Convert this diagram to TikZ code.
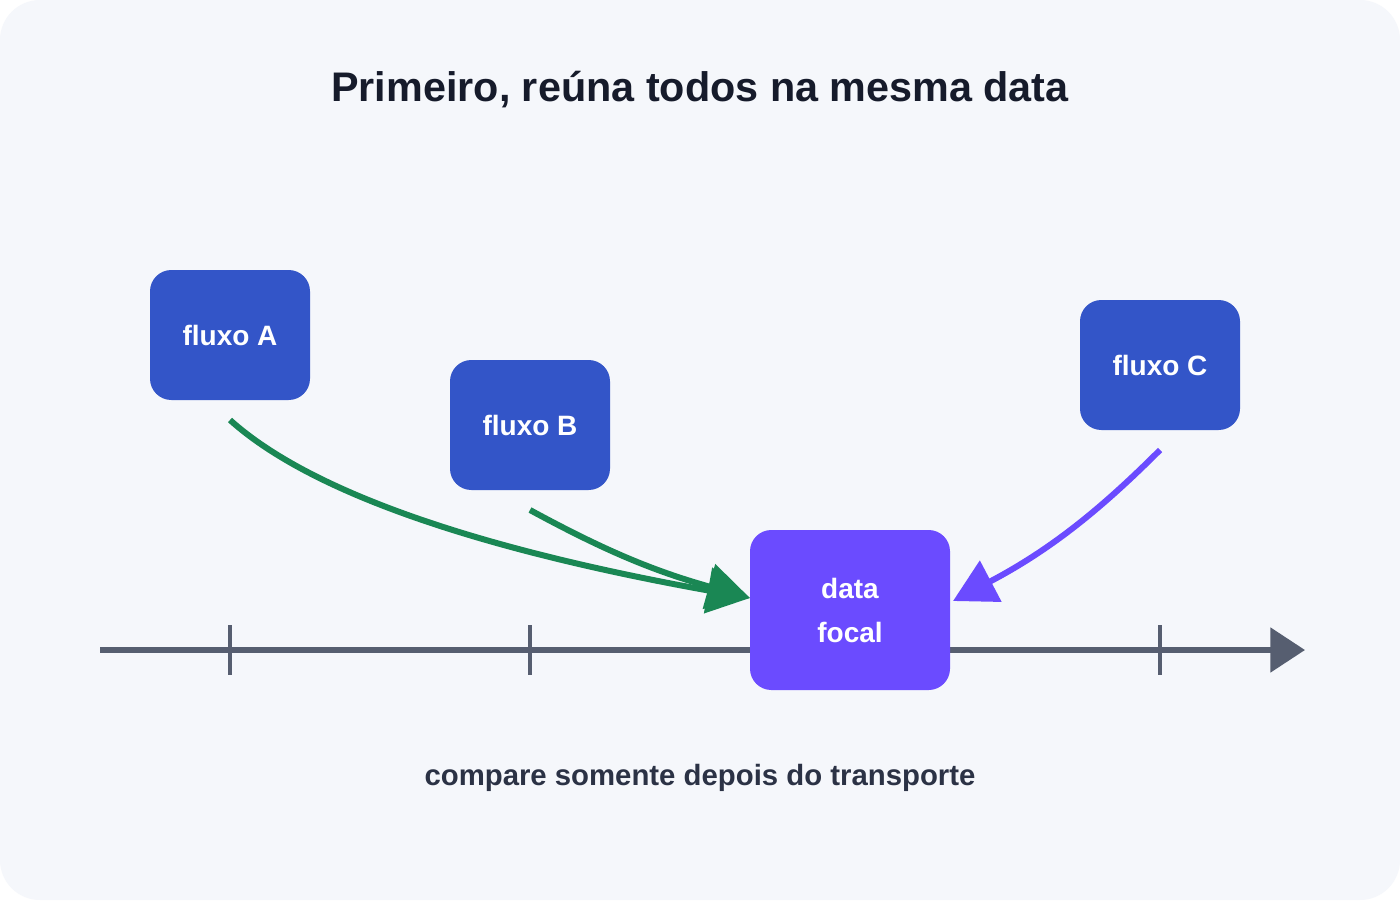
\documentclass[tikz,border=0pt]{standalone}
\usepackage{fontspec}
\setmainfont{Liberation Sans}
\usetikzlibrary{arrows.meta}
\definecolor{bg}{HTML}{F5F7FB}
\definecolor{boxb}{HTML}{3355C8}
\definecolor{focal}{HTML}{6B4BFF}
\definecolor{axis}{HTML}{565E70}
\definecolor{grn}{HTML}{1A8754}
\definecolor{ttl}{HTML}{161B2B}
\definecolor{sub}{HTML}{2B3245}
\begin{document}
\begin{tikzpicture}[x=0.75pt,y=-0.75pt,
  box/.style={draw=none,fill=boxb,rounded corners=16pt,minimum width=120pt,minimum height=97.5pt,text=white,font=\bfseries\fontsize{21}{25}\selectfont,inner sep=0pt},
  conn/.style={line width=4.5pt},
  tick/.style={axis,line width=3.5pt}]
\useasboundingbox (0,0) rectangle (1400,900);
\fill[white] (0,0) rectangle (1400,900);
\fill[bg,rounded corners=30pt] (0,0) rectangle (1400,900);
\node[text=ttl,font=\bfseries\fontsize{31}{36}\selectfont] (title) at (700,90) {Primeiro, reúna todos na mesma data};
% axis
\coordinate (ax0) at (100,650);
\coordinate (ax1) at (1305,650);
\draw[axis,line width=4pt,-{Triangle[length=26pt,width=33pt]}] (ax0) -- (ax1);
\foreach \x/\n in {230/t1,530/t2,1160/t3}{
  \coordinate (\n a) at (\x,625); \coordinate (\n b) at (\x,675);
  \draw[tick] (\n a) -- (\n b);}
\node[box] (A) at (230,335) {fluxo A};
\node[box] (B) at (530,425) {fluxo B};
\node[box] (C) at (1160,365) {fluxo C};
\node[box,fill=focal,minimum width=150pt,minimum height=120pt,align=center,font=\bfseries\fontsize{21}{33}\selectfont] (F) at (850,610) {data\\focal};
\coordinate (Aout) at (230,420);
\coordinate (Bout) at (530,510);
\coordinate (Cout) at (1160,450);
\coordinate (Fin) at (750,598);
\coordinate (Fin2) at (953,601);
\draw[conn,grn,-{Triangle[length=32pt,width=34pt]}] (Bout) .. controls (600,548) and (650,570) .. (Fin);
\draw[conn,grn,-{Triangle[length=32pt,width=34pt]}] (Aout) .. controls (330,510) and (550,562) .. (Fin);
\draw[conn,focal,-{Triangle[length=32pt,width=34pt]}] (Cout) .. controls (1100,510) and (1050,550) .. (Fin2);
\node[text=sub,font=\bfseries\fontsize{22}{26}\selectfont] (cap) at (700,778) {compare somente depois do transporte};
\end{tikzpicture}
\end{document}
